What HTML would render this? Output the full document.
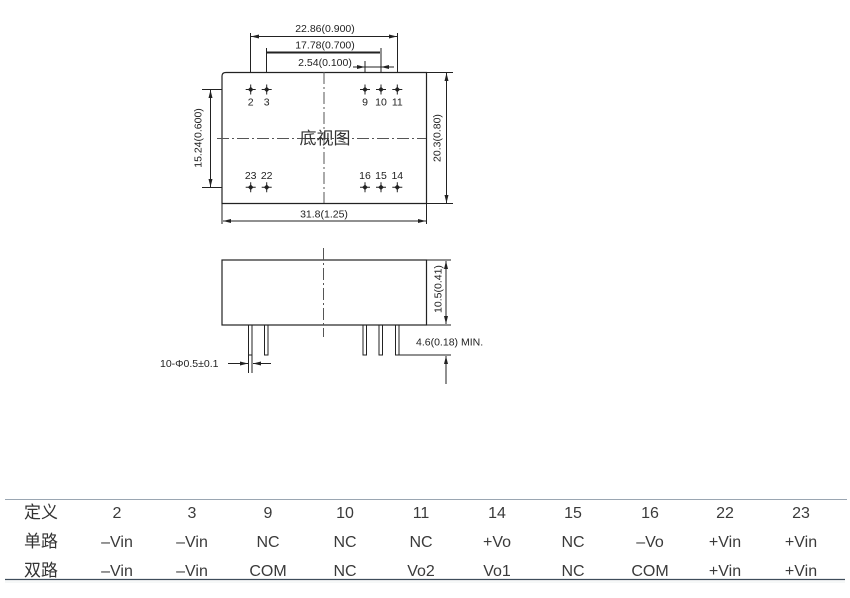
<!DOCTYPE html>
<html><head><meta charset="utf-8"><style>
html,body{margin:0;padding:0;background:#fff;width:850px;height:598px;overflow:hidden}
svg{position:absolute;left:0;top:0}
.t{font-family:"Liberation Sans","Noto Sans CJK SC",sans-serif;font-size:10.5px;fill:#222}
.tb{font-family:"Liberation Sans","Noto Sans CJK SC",sans-serif;font-size:16px;fill:#3a3a3a;text-anchor:middle}
.cj{font-family:"Liberation Sans","Noto Sans CJK SC",sans-serif;font-size:17px;fill:#333;text-anchor:middle}
</style></head><body>
<svg width="850" height="598" viewBox="0 0 850 598" xmlns="http://www.w3.org/2000/svg">
<defs>
<marker id="a" viewBox="0 0 8 4" refX="8" refY="2" markerWidth="8" markerHeight="4" orient="auto" markerUnits="userSpaceOnUse"><path d="M0,0 L8,2 L0,4 z" fill="#222"/></marker>
<g id="pin"><path d="M-5,0 H5 M0,-5 V5" stroke="#222" stroke-width="1"/><path d="M-2.8,0 L0,-2.8 L2.8,0 L0,2.8 z" fill="#222"/></g>
</defs>

<!-- TOP VIEW -->
<path d="M222,203.5 V76 Q222,72.5 226,72.5 H426.5 V203.5 Z" fill="none" stroke="#222" stroke-width="1.2"/>
<line x1="324" y1="72" x2="324" y2="203" stroke="#555" stroke-width="1" stroke-dasharray="12,3,2,3"/>
<line x1="217" y1="138.5" x2="426" y2="138.5" stroke="#555" stroke-width="1" stroke-dasharray="12,3,2,3"/>
<text x="325" y="144" text-anchor="middle" style="font-family:'Liberation Sans','Noto Sans CJK SC',sans-serif;font-size:17px;fill:#333">底视图</text>

<use href="#pin" x="250.7" y="89.5"/><use href="#pin" x="266.7" y="89.5"/>
<use href="#pin" x="365" y="89.5"/><use href="#pin" x="381" y="89.5"/><use href="#pin" x="397.3" y="89.5"/>
<use href="#pin" x="250.7" y="187.3"/><use href="#pin" x="266.7" y="187.3"/>
<use href="#pin" x="365" y="187.3"/><use href="#pin" x="381" y="187.3"/><use href="#pin" x="397.3" y="187.3"/>
<g class="t" text-anchor="middle">
<text x="250.7" y="105.5">2</text><text x="266.7" y="105.5">3</text>
<text x="365" y="105.5">9</text><text x="381" y="105.5">10</text><text x="397.3" y="105.5">11</text>
<text x="250.7" y="179">23</text><text x="266.7" y="179">22</text>
<text x="365" y="179">16</text><text x="381" y="179">15</text><text x="397.3" y="179">14</text>
</g>

<!-- top dims -->
<g stroke="#222" stroke-width="1" fill="none">
<line x1="250.5" y1="33" x2="250.5" y2="72"/>
<line x1="397.5" y1="33" x2="397.5" y2="72"/>
<line x1="266.5" y1="48" x2="266.5" y2="72"/>
<line x1="381" y1="48" x2="381" y2="72"/>
<line x1="365" y1="61" x2="365" y2="72"/>
<line x1="256" y1="36.5" x2="251" y2="36.5" marker-end="url(#a)"/>
<line x1="256" y1="36.5" x2="397" y2="36.5" marker-end="url(#a)"/>
<line x1="267" y1="52.5" x2="380" y2="52.5" stroke-width="2"/>
<line x1="353" y1="67" x2="365" y2="67" marker-end="url(#a)"/>
<line x1="365" y1="67" x2="381" y2="67"/>
<line x1="394" y1="67" x2="381" y2="67" marker-end="url(#a)"/>
<!-- left -->
<line x1="202" y1="89.5" x2="222" y2="89.5"/>
<line x1="202" y1="187.5" x2="222" y2="187.5"/>
<line x1="210.5" y1="138" x2="210.5" y2="90" marker-end="url(#a)"/>
<line x1="210.5" y1="138" x2="210.5" y2="187" marker-end="url(#a)"/>
<!-- right -->
<line x1="427" y1="72.5" x2="453" y2="72.5"/>
<line x1="427" y1="203.5" x2="453" y2="203.5"/>
<line x1="446.5" y1="138" x2="446.5" y2="73" marker-end="url(#a)"/>
<line x1="446.5" y1="138" x2="446.5" y2="203" marker-end="url(#a)"/>
<!-- bottom -->
<line x1="222" y1="203" x2="222" y2="224"/>
<line x1="426.5" y1="203" x2="426.5" y2="224"/>
<line x1="324" y1="221" x2="223" y2="221" marker-end="url(#a)"/>
<line x1="324" y1="221" x2="426" y2="221" marker-end="url(#a)"/>
</g>
<g class="t" text-anchor="middle">
<text x="325" y="32">22.86(0.900)</text>
<text x="325" y="48.5">17.78(0.700)</text>
<text x="325" y="66">2.54(0.100)</text>
<text x="324" y="217.5">31.8(1.25)</text>
<text transform="translate(201.5,138) rotate(-90)">15.24(0.600)</text>
<text transform="translate(440.5,138) rotate(-90)">20.3(0.80)</text>
<text transform="translate(441.5,289) rotate(-90)">10.5(0.41)</text>
</g>

<!-- SIDE VIEW -->
<rect x="222" y="260" width="204.5" height="65" fill="none" stroke="#222" stroke-width="1.2"/>
<line x1="323.5" y1="248" x2="323.5" y2="337" stroke="#555" stroke-width="1" stroke-dasharray="12,3,2,3"/>
<g stroke="#222" stroke-width="1" fill="none">
<path d="M248.5,325 V373 M252,325 V373 M248.5,355 H252"/>
<path d="M264.5,325 V355 H268 V325"/>
<path d="M363,325 V355 H366.5 V325"/>
<path d="M379,325 V355 H382.5 V325"/>
<path d="M395.5,325 V355 H399 V325"/>
<line x1="228" y1="363.5" x2="248" y2="363.5" marker-end="url(#a)"/>
<line x1="271" y1="363.5" x2="253" y2="363.5" marker-end="url(#a)"/>
<line x1="427" y1="260" x2="451" y2="260"/>
<line x1="427" y1="325" x2="451" y2="325"/>
<line x1="446" y1="290" x2="446" y2="261" marker-end="url(#a)"/>
<line x1="446" y1="290" x2="446" y2="324" marker-end="url(#a)"/>
<line x1="399" y1="355" x2="451" y2="355"/>
<line x1="446" y1="384" x2="446" y2="356" marker-end="url(#a)"/>
</g>
<text class="t" x="160" y="367" style="font-size:10.5px">10-Φ0.5±0.1</text>
<text class="t" x="416" y="345.5">4.6(0.18) MIN.</text>

<!-- TABLE -->
<line x1="5" y1="499.5" x2="847" y2="499.5" stroke="#9aa6b2" stroke-width="1"/>
<line x1="5" y1="579.5" x2="845" y2="579.5" stroke="#3e4c5a" stroke-width="1.3"/>
<line x1="5" y1="582" x2="845" y2="582" stroke="#eef0f2" stroke-width="1"/>
<text class="cj" x="41" y="518">定义</text>
<text class="cj" x="41" y="547">单路</text>
<text class="cj" x="41" y="576">双路</text>
<g class="tb">
<text x="117" y="518">2</text><text x="192" y="518">3</text><text x="268" y="518">9</text><text x="345" y="518">10</text><text x="421" y="518">11</text><text x="497" y="518">14</text><text x="573" y="518">15</text><text x="650" y="518">16</text><text x="725" y="518">22</text><text x="801" y="518">23</text>
<text x="117" y="547">–Vin</text><text x="192" y="547">–Vin</text><text x="268" y="547">NC</text><text x="345" y="547">NC</text><text x="421" y="547">NC</text><text x="497" y="547">+Vo</text><text x="573" y="547">NC</text><text x="650" y="547">–Vo</text><text x="725" y="547">+Vin</text><text x="801" y="547">+Vin</text>
<text x="117" y="576">–Vin</text><text x="192" y="576">–Vin</text><text x="268" y="576">COM</text><text x="345" y="576">NC</text><text x="421" y="576">Vo2</text><text x="497" y="576">Vo1</text><text x="573" y="576">NC</text><text x="650" y="576">COM</text><text x="725" y="576">+Vin</text><text x="801" y="576">+Vin</text>
</g>
</svg>
</body></html>
